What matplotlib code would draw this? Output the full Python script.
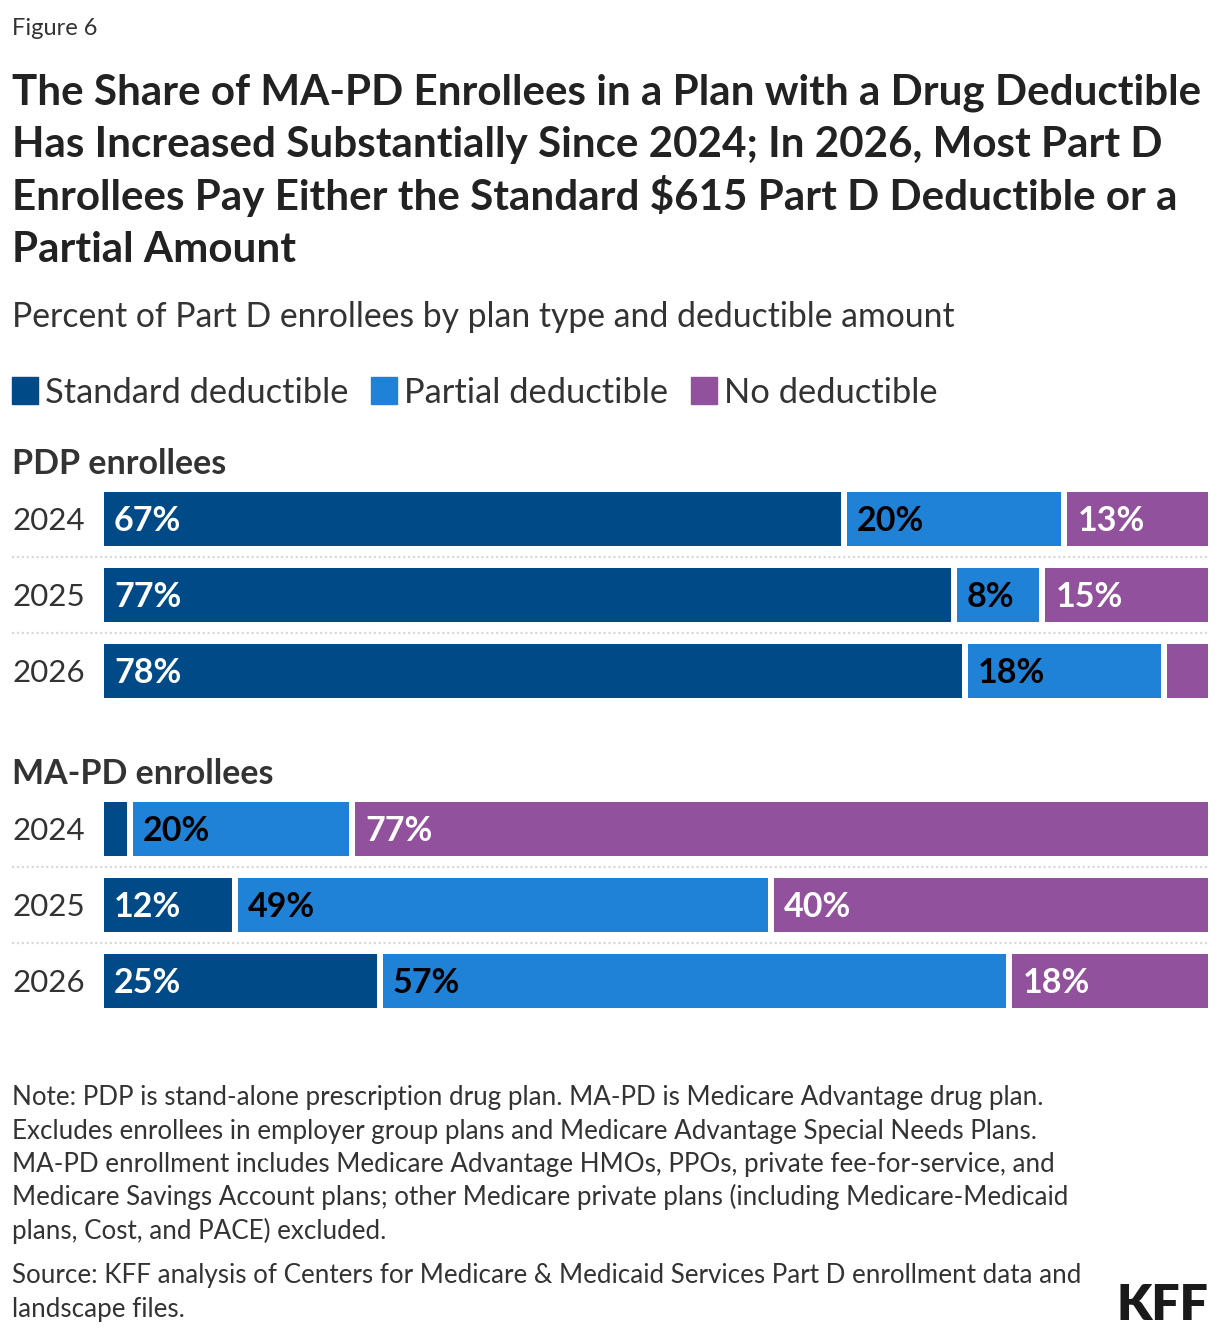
import numpy as np
import matplotlib.pyplot as plt

# data
years = ["2024", "2025", "2026"]
series = ["Standard deductible", "Partial deductible", "No deductible"]
pdp_standard = [67, 77, 78]
pdp_partial = [20, 8, 18]
pdp_none = [13, 15, 4]
mapd_standard = [2.3, 12, 25]
mapd_partial = [20, 49, 57]
mapd_none = [77, 40, 18]
# which segments carry a label (small ones are left blank)
pdp_show = [[True, True, True], [True, True, True], [True, True, False]]
mapd_show = [[False, True, True], [True, True, True], [True, True, True]]

colors = ["#004b87", "#1f82d6", "#91519d"]
label_colors = ["white", "black", "white"]
text_col = "#333333"

plt.rcParams['font.family'] = ['Lato', 'DejaVu Sans']

W, H = 1220, 1336
fig = plt.figure(figsize=(W / 100, H / 100), dpi=100)


def fy(y):
    return 1 - y / H


def fx(x):
    return x / W


# header
fig.text(fx(12), fy(35), "Figure 6", fontsize=17, color=text_col, va='baseline')
title = ["The Share of MA-PD Enrollees in a Plan with a Drug Deductible",
         "Has Increased Substantially Since 2024; In 2026, Most Part D",
         "Enrollees Pay Either the Standard $615 Part D Deductible or a",
         "Partial Amount"]
for i, line in enumerate(title):
    fig.text(fx(12), fy(105 + i * 52.5), line, fontsize=30.3, fontweight='bold',
             color="#222222", va='baseline')
fig.text(fx(12), fy(327), "Percent of Part D enrollees by plan type and deductible amount",
         fontsize=24.3, color=text_col, va='baseline')

# legend
leg_x = [12, 371, 691]
for x, name, c in zip(leg_x, series, colors):
    fig.patches.append(plt.Rectangle((fx(x), fy(404)), 26 / W, 27 / H,
                                     transform=fig.transFigure, color=c))
    fig.text(fx(x + 33), fy(403), name, fontsize=24.8, color=text_col, va='baseline')

px = 100 / 1104  # data units per pixel
gap = 6 * px


def panel(top, heading, std, part, none, show):
    fig.text(fx(12), fy(top - 7), heading, fontsize=24.5, fontweight='bold',
             color=text_col, va='baseline')
    ax = fig.add_axes([fx(104), fy(top + 228), 1104 / W, 228 / H])
    vals = np.array([std, part, none], dtype=float).T
    for r, row in enumerate(vals):
        scaled = row / row.sum() * 100
        lefts = np.concatenate([[0], np.cumsum(scaled)[:-1]])
        for k in range(3):
            l = lefts[k] + (gap / 2 if k > 0 else 0)
            w = scaled[k] - (gap / 2 if k > 0 else 0) - (gap / 2 if k < 2 else 0)
            ax.barh(r, w, left=l, height=54 / 76, color=colors[k])
            if show[r][k]:
                ax.text(l + 10 * px, r + 0.03, f"{round(row[k])}%", fontsize=24.5,
                        fontweight='bold', color=label_colors[k], va='center')
        ax.text(-92 * px, r + 0.03, years[r], fontsize=22.5, color=text_col,
                va='center', ha='left')
    for s in [0.5, 1.5]:
        ax.plot([-92 / 1104, 1], [s, s], transform=ax.get_yaxis_transform(),
                color="#d9d9d9", lw=1.6, ls=(0, (1, 1.2)), clip_on=False)
    ax.set_xlim(0, 100)
    ax.set_ylim(2.5, -0.5)
    ax.axis('off')


panel(481, "PDP enrollees", pdp_standard, pdp_partial, pdp_none, pdp_show)
panel(791, "MA-PD enrollees", mapd_standard, mapd_partial, mapd_none, mapd_show)

notes = ["Note: PDP is stand-alone prescription drug plan. MA-PD is Medicare Advantage drug plan.",
         "Excludes enrollees in employer group plans and Medicare Advantage Special Needs Plans.",
         "MA-PD enrollment includes Medicare Advantage HMOs, PPOs, private fee-for-service, and",
         "Medicare Savings Account plans; other Medicare private plans (including Medicare-Medicaid",
         "plans, Cost, and PACE) excluded."]
for i, line in enumerate(notes):
    fig.text(fx(12), fy(1105 + i * 33.5), line, fontsize=18.7, color=text_col, va='baseline')
source = ["Source: KFF analysis of Centers for Medicare & Medicaid Services Part D enrollment data and",
          "landscape files."]
for i, line in enumerate(source):
    fig.text(fx(12), fy(1283 + i * 33.5), line, fontsize=18.7, color=text_col, va='baseline')

fig.text(fx(1208), fy(1320), "KFF", fontsize=36, fontweight='heavy', color="#1a1a1a",
         ha='right', va='baseline')

fig.savefig("out.png", dpi=100, facecolor='white')
